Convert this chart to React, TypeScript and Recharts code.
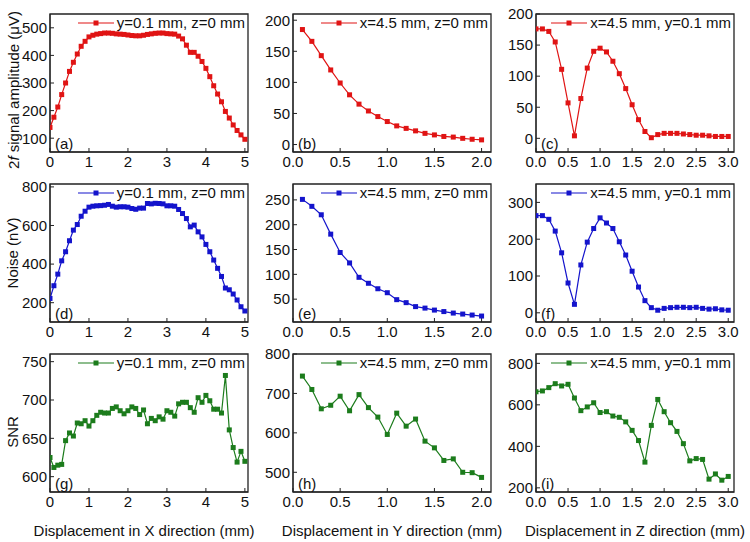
import React from 'react';
import { LineChart, Line, XAxis, YAxis, ReferenceArea } from 'recharts';

const FONT = '"Liberation Sans", Arial, Helvetica, sans-serif';

// x positions (mm)
const posX = [0, 0.1, 0.2, 0.3, 0.4, 0.5, 0.6, 0.7, 0.8, 0.9, 1.0, 1.1, 1.2, 1.3, 1.4, 1.5, 1.6, 1.7, 1.8, 1.9, 2.0, 2.1, 2.2, 2.3, 2.4, 2.5, 2.6, 2.7, 2.8, 2.9, 3.0, 3.1, 3.2, 3.3, 3.4, 3.5, 3.6, 3.7, 3.8, 3.9, 4.0, 4.1, 4.2, 4.3, 4.4, 4.5, 4.6, 4.7, 4.8, 4.9, 5.0];
const posY = [0.1, 0.2, 0.3, 0.4, 0.5, 0.6, 0.7, 0.8, 0.9, 1.0, 1.1, 1.2, 1.3, 1.4, 1.5, 1.6, 1.7, 1.8, 1.9, 2.0];
const posZ = [0, 0.1, 0.2, 0.3, 0.4, 0.5, 0.6, 0.7, 0.8, 0.9, 1.0, 1.1, 1.2, 1.3, 1.4, 1.5, 1.6, 1.7, 1.8, 1.9, 2.0, 2.1, 2.2, 2.3, 2.4, 2.5, 2.6, 2.7, 2.8, 2.9, 3.0];

// 2f signal amplitude (uV)
const ampX = [139, 176, 213, 258, 300, 342, 375, 405, 433, 451, 467, 473, 477, 479, 481, 481, 480, 478, 477, 476, 474, 472, 471, 471, 473, 476, 478, 480, 481, 481, 479, 478, 477, 470, 460, 437, 411, 411, 397, 378, 353, 323, 290, 260, 232, 197, 173, 148, 128, 112, 96];
const ampY = [185, 166, 143, 120, 99, 80, 65, 54, 45, 37, 30, 26, 22, 18, 15.5, 13, 12, 10, 8.5, 7.5];
const ampZ = [176, 176, 172, 155, 111, 57, 4, 64, 113, 140, 145, 139, 124, 104, 80, 54, 30, 11, 1, 6, 8, 8, 8, 7, 6, 5, 5, 4, 3, 3, 3];

// Noise (nV)
const noiseX = [222, 288, 348, 417, 464, 521, 576, 605, 648, 674, 695, 700, 702, 703, 705, 709, 700, 695, 697, 697, 695, 688, 684, 690, 690, 714, 712, 715, 714, 712, 702, 702, 700, 683, 662, 636, 593, 602, 567, 541, 502, 464, 421, 378, 336, 276, 267, 245, 214, 179, 157];
const noiseY = [251, 237, 220, 181, 144, 123, 94, 82, 71, 63, 49, 43, 35, 32, 28, 25, 22, 20, 18, 16];
const noiseZ = [264, 264, 254, 222, 163, 81, 23, 130, 192, 229, 258, 244, 229, 193, 157, 113, 70, 33, 14, 7, 12, 14, 15, 15, 14, 15, 12, 10, 11, 8, 7];

// SNR
const snrX = [625, 612, 615, 616, 647, 657, 653, 670, 669, 673, 666, 673, 680, 684, 683, 683, 689, 691, 686, 682, 686, 691, 689, 681, 687, 669, 676, 673, 678, 675, 686, 684, 679, 695, 697, 697, 690, 684, 703, 697, 706, 699, 688, 688, 683, 732, 661, 638, 619, 633, 620];
const snrY = [744, 710, 661, 670, 693, 656, 697, 664, 640, 596, 650, 617, 635, 579, 562, 530, 534, 500, 499, 487];
const snrZ = [663, 667, 683, 702, 691, 699, 633, 572, 590, 610, 563, 567, 546, 540, 518, 477, 428, 324, 501, 626, 567, 514, 472, 413, 330, 341, 337, 242, 267, 237, 255];

// tick labels
const ticksX = [0, 1, 2, 3, 4, 5];
const ticksY = [0, 0.5, 1.0, 1.5, 2.0];
const ticksZ = [0, 0.5, 1.0, 1.5, 2.0, 2.5, 3.0];

const legendXpos = 'y=0.1 mm, z=0 mm';
const legendYpos = 'x=4.5 mm, z=0 mm';
const legendZpos = 'x=4.5 mm, y=0.1 mm';

const RED = '#e01414';
const BLUE = '#1414cc';
const GREEN = '#1c7c1c';

const COLS = [50, 293, 536];
const ROWS = [14, 184, 354];
const PW = 198;
const PH = 138;
const ML = 50;
const MR = 8;
const MT = 12;
const MB = 28;

type PanelDef = {
  col: number;
  row: number;
  xs: number[];
  ys: number[];
  color: string;
  xDomain: [number, number];
  xTicks: number[];
  xDec: number;
  yDomain: [number, number];
  yTicks: number[];
  legend: string;
  tag: string;
};

const panels: PanelDef[] = [
  { col: 0, row: 0, xs: posX, ys: ampX, color: RED, xDomain: [0, 5.08], xTicks: ticksX, xDec: 0, yDomain: [50, 550], yTicks: [100, 200, 300, 400, 500], legend: legendXpos, tag: '(a)' },
  { col: 1, row: 0, xs: posY, ys: ampY, color: RED, xDomain: [0, 2.1], xTicks: ticksY, xDec: 1, yDomain: [-12, 210], yTicks: [0, 50, 100, 150, 200], legend: legendYpos, tag: '(b)' },
  { col: 2, row: 0, xs: posZ, ys: ampZ, color: RED, xDomain: [0, 3.09], xTicks: ticksZ, xDec: 1, yDomain: [-22, 200], yTicks: [0, 50, 100, 150, 200], legend: legendZpos, tag: '(c)' },
  { col: 0, row: 1, xs: posX, ys: noiseX, color: BLUE, xDomain: [0, 5.08], xTicks: ticksX, xDec: 0, yDomain: [100, 815], yTicks: [200, 400, 600, 800], legend: legendXpos, tag: '(d)' },
  { col: 1, row: 1, xs: posY, ys: noiseY, color: BLUE, xDomain: [0, 2.1], xTicks: ticksY, xDec: 1, yDomain: [4, 282], yTicks: [50, 100, 150, 200, 250], legend: legendYpos, tag: '(e)' },
  { col: 2, row: 1, xs: posZ, ys: noiseZ, color: BLUE, xDomain: [0, 3.09], xTicks: ticksZ, xDec: 1, yDomain: [-25, 350], yTicks: [0, 100, 200, 300], legend: legendZpos, tag: '(f)' },
  { col: 0, row: 2, xs: posX, ys: snrX, color: GREEN, xDomain: [0, 5.08], xTicks: ticksX, xDec: 0, yDomain: [580, 760], yTicks: [600, 650, 700, 750], legend: legendXpos, tag: '(g)' },
  { col: 1, row: 2, xs: posY, ys: snrY, color: GREEN, xDomain: [0, 2.1], xTicks: ticksY, xDec: 1, yDomain: [450, 800], yTicks: [500, 600, 700, 800], legend: legendYpos, tag: '(h)' },
  { col: 2, row: 2, xs: posZ, ys: snrZ, color: GREEN, xDomain: [0, 3.09], xTicks: ticksZ, xDec: 1, yDomain: [180, 845], yTicks: [200, 400, 600, 800], legend: legendZpos, tag: '(i)' },
];

const makeDot = (color: string) => (props: any) => {
  const { cx, cy, index } = props;
  if (cx == null || cy == null) return <g key={`e${index}`} />;
  return <rect key={`d${index}`} x={cx - 2.5} y={cy - 2.5} width={5} height={5} fill={color} />;
};

function Panel({ p }: { p: PanelDef }) {
  const data = p.xs.map((x, i) => ({ x, y: p.ys[i] }));
  const left = COLS[p.col];
  const top = ROWS[p.row];
  const W = PW + ML + MR;
  const H = PH + MT + MB;
  const tickStyle = { fill: '#111', fontSize: 15, fontFamily: FONT };
  return (
    <div style={{ position: 'absolute', left: left - ML, top: top - MT, width: W, height: H }}>
      <LineChart width={W} height={H} data={data} margin={{ top: MT, right: MR, left: 0, bottom: 0 }} style={{ overflow: 'visible' }}>
        <XAxis
          dataKey="x"
          type="number"
          domain={p.xDomain}
          ticks={p.xTicks}
          interval={0}
          allowDataOverflow
          height={MB}
          tickSize={-4}
          tickMargin={8}
          stroke="#222"
          tick={tickStyle}
          tickFormatter={(v: number) => v.toFixed(p.xDec)}
        />
        <YAxis
          type="number"
          domain={p.yDomain}
          ticks={p.yTicks}
          interval={0}
          allowDataOverflow
          width={ML}
          tickSize={-4}
          tickMargin={7}
          stroke="#222"
          tick={tickStyle}
        />
        <ReferenceArea
          x1={p.xDomain[0]}
          x2={p.xDomain[1]}
          y1={p.yDomain[0]}
          y2={p.yDomain[1]}
          fill="none"
          fillOpacity={0}
          stroke="#222"
          strokeWidth={1.3}
          strokeOpacity={1}
        />
        <Line
          dataKey="y"
          type="linear"
          stroke={p.color}
          strokeWidth={1.2}
          dot={makeDot(p.color)}
          activeDot={false}
          isAnimationActive={false}
        />
      </LineChart>
      <div
        style={{
          position: 'absolute',
          right: MR + 3,
          top: MT,
          display: 'flex',
          alignItems: 'center',
          whiteSpace: 'nowrap',
          fontSize: 15,
          lineHeight: '17px',
          color: '#111',
          background: 'transparent',
        }}
      >
        <svg width={36} height={10} style={{ marginRight: 3 }}>
          <line x1={0} y1={5} x2={36} y2={5} stroke={p.color} strokeWidth={1.2} />
          <rect x={15.5} y={2.5} width={5} height={5} fill={p.color} />
        </svg>
        <span>{p.legend}</span>
      </div>
      <div
        style={{
          position: 'absolute',
          left: ML + 5,
          bottom: MB,
          fontSize: 15,
          lineHeight: '17px',
          color: '#111',
        }}
      >
        {p.tag}
      </div>
    </div>
  );
}

const yTitles = [
  { cx: 13, cy: 90, node: <span>2<i>f</i> signal amplitude (μV)</span> },
  { cx: 12, cy: 253, node: <span>Noise (nV)</span> },
  { cx: 12, cy: 432, node: <span>SNR</span> },
];

const xTitles = [
  { cx: 144, text: 'Displacement in X direction (mm)' },
  { cx: 392, text: 'Displacement in Y direction (mm)' },
  { cx: 635, text: 'Displacement in Z direction (mm)' },
];

export default function App() {
  return (
    <div
      style={{
        position: 'absolute',
        left: 0,
        top: 0,
        width: 750,
        height: 542,
        background: '#fff',
        fontFamily: FONT,
        overflow: 'hidden',
      }}
    >
      {panels.map((p) => (
        <Panel key={p.tag} p={p} />
      ))}
      {yTitles.map((t, i) => (
        <div
          key={`yt${i}`}
          style={{
            position: 'absolute',
            left: t.cx,
            top: t.cy,
            transform: 'translate(-50%, -50%) rotate(-90deg)',
            whiteSpace: 'nowrap',
            fontSize: 15,
            lineHeight: '17px',
            color: '#111',
          }}
        >
          {t.node}
        </div>
      ))}
      {xTitles.map((t, i) => (
        <div
          key={`xt${i}`}
          style={{
            position: 'absolute',
            left: t.cx,
            top: 530,
            transform: 'translate(-50%, -50%)',
            whiteSpace: 'nowrap',
            fontSize: 15,
            lineHeight: '17px',
            color: '#111',
          }}
        >
          {t.text}
        </div>
      ))}
    </div>
  );
}
